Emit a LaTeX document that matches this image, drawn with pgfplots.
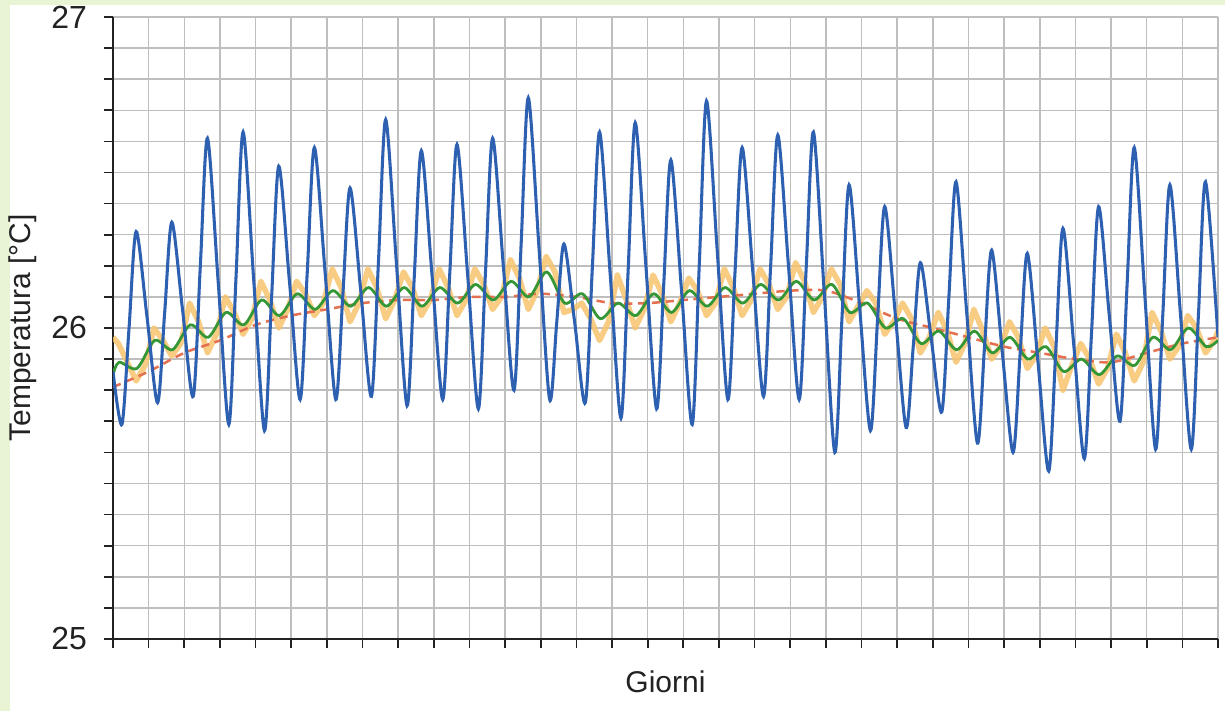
\documentclass[border=0pt]{standalone}
\usepackage{fontspec}
\setmainfont{Liberation Sans}
\usepackage{pgfplots}
\pgfplotsset{compat=1.18}
\definecolor{bggreen}{RGB}{232,244,212}
\definecolor{cblue}{RGB}{46,96,178}
\definecolor{corange}{RGB}{247,196,110}
\definecolor{cgreen}{RGB}{52,150,52}
\definecolor{cred}{RGB}{228,112,80}
\definecolor{cgrid}{RGB}{190,190,190}
\definecolor{ctext}{RGB}{34,34,34}
\begin{document}
\begin{tikzpicture}
\useasboundingbox (0,0) rectangle (441pt,255.96pt);
\fill[bggreen] (0,0) rectangle (441pt,255.96pt);
\fill[white] (3.6pt,0) rectangle (441pt,254.16pt);
\begin{axis}[
  at={(40.68pt,25.92pt)}, anchor=south west,
  scale only axis, width=397.8pt, height=223.92pt,
  xmin=0, xmax=31, ymin=25, ymax=27,
  enlargelimits=false,
  axis lines=left,
  axis line style={-, draw=ctext, line width=0.75pt},
  tick align=outside,
  xtick={0,...,31}, xticklabel={\mbox{}},
  ytick={25,26,27}, minor y tick num=9,
  major tick length=3.4pt, minor tick length=3.4pt,
  every tick/.style={draw=ctext, line width=0.6pt},
  grid=both,
  major grid style={draw=cgrid, line width=0.55pt},
  minor grid style={draw=cgrid, line width=0.55pt},
  /pgf/number format/assume math mode=true,
  ticklabel style={font=\fontsize{11.5}{13}\selectfont, text=ctext},
  yticklabel style={xshift=-2.5pt},
  xlabel={Giorni}, ylabel={Temperatura [°C]},
  label style={font=\fontsize{10.8}{13}\selectfont, text=ctext},
  xlabel style={at={(axis description cs:0.5,-0.069)}, anchor=center},
  ylabel style={at={(axis description cs:-0.0814,0.5)}, anchor=center, rotate=0},
]
% orange (noisy short average)
\addplot[corange, line width=2pt, opacity=0.85, line join=round] coordinates {
(0,25.97) (0.15,25.95) (0.4,25.89) (0.65,25.83) (0.9,25.88)
(1.15,26.00) (1.4,25.96) (1.65,25.91) (1.9,25.95)
(2.15,26.08) (2.4,26.02) (2.65,25.92) (2.9,25.98)
(3.15,26.10) (3.4,26.05) (3.65,25.98) (3.9,26.03)
(4.15,26.15) (4.4,26.09) (4.65,26.00) (4.9,26.06)
(5.15,26.15) (5.4,26.11) (5.65,26.04) (5.9,26.08)
(6.15,26.19) (6.4,26.13) (6.65,26.02) (6.9,26.08)
(7.15,26.19) (7.4,26.13) (7.65,26.03) (7.9,26.09)
(8.15,26.18) (8.4,26.13) (8.65,26.04) (8.9,26.09)
(9.15,26.19) (9.4,26.13) (9.65,26.04) (9.9,26.09)
(10.15,26.19) (10.4,26.14) (10.65,26.06) (10.9,26.10)
(11.15,26.22) (11.4,26.16) (11.65,26.06) (11.9,26.12)
(12.15,26.23) (12.4,26.18) (12.65,26.05) (12.9,26.06)
(13.15,26.08) (13.4,26.03) (13.65,25.96) (13.9,26.02)
(14.15,26.17) (14.4,26.09) (14.65,26.00) (14.9,26.06)
(15.15,26.17) (15.4,26.11) (15.65,26.02) (15.9,26.08)
(16.15,26.16) (16.4,26.12) (16.65,26.04) (16.9,26.08)
(17.15,26.19) (17.4,26.13) (17.65,26.04) (17.9,26.09)
(18.15,26.19) (18.4,26.14) (18.65,26.06) (18.9,26.10)
(19.15,26.21) (19.4,26.15) (19.65,26.05) (19.9,26.10)
(20.15,26.19) (20.4,26.14) (20.65,26.02) (20.9,26.07)
(21.15,26.12) (21.4,26.08) (21.65,25.98) (21.9,26.02)
(22.15,26.08) (22.4,26.03) (22.65,25.92) (22.9,25.97)
(23.15,26.05) (23.4,25.99) (23.65,25.89) (23.9,25.95)
(24.15,26.06) (24.4,25.99) (24.65,25.90) (24.9,25.94)
(25.15,26.02) (25.4,25.97) (25.65,25.87) (25.9,25.91)
(26.15,26.00) (26.4,25.94) (26.65,25.80) (26.9,25.88)
(27.15,25.95) (27.4,25.90) (27.65,25.82) (27.9,25.87)
(28.15,25.98) (28.4,25.92) (28.65,25.83) (28.9,25.89)
(29.15,26.05) (29.4,25.99) (29.65,25.90) (29.9,25.94)
(30.15,26.04) (30.4,26.00) (30.65,25.92) (30.9,25.96)
(31,25.99)
};
% red dashed trend
\addplot[cred, line width=0.9pt, dash pattern=on 3pt off 2pt, smooth] coordinates {
(0,25.81) (1,25.86) (2,25.92) (3,25.96) (4,26.01) (5,26.04) (6,26.06) (7,26.08)
(8,26.09) (9,26.09) (10,26.10) (11,26.10) (12,26.11) (13,26.10) (14,26.08) (15,26.08)
(16,26.09) (17,26.10) (18,26.11) (19,26.12) (20,26.12) (21,26.08) (22,26.03) (23,26.00)
(24,25.97) (25,25.94) (26,25.92) (27,25.90) (28,25.89) (29,25.92) (30,25.95) (31,25.97)
};
% green smoothed
\addplot[cgreen, line width=1pt, smooth] coordinates {
(0,25.85)
(0.17,25.89) (0.67,25.87) (1.17,25.96) (1.67,25.93) (2.17,26.01) (2.67,25.97)
(3.17,26.05) (3.67,26.01) (4.17,26.09) (4.67,26.04) (5.17,26.11) (5.67,26.06)
(6.17,26.12) (6.67,26.07) (7.17,26.13) (7.67,26.07) (8.17,26.13) (8.67,26.07)
(9.17,26.13) (9.67,26.08) (10.17,26.14) (10.67,26.09) (11.17,26.15) (11.67,26.10)
(12.17,26.18) (12.67,26.08) (13.17,26.11) (13.67,26.03) (14.17,26.08) (14.67,26.04)
(15.17,26.11) (15.67,26.05) (16.17,26.12) (16.67,26.07) (17.17,26.13) (17.67,26.08)
(18.17,26.14) (18.67,26.09) (19.17,26.15) (19.67,26.09) (20.17,26.14) (20.67,26.05)
(21.17,26.08) (21.67,26.00) (22.17,26.03) (22.67,25.95) (23.17,25.99) (23.67,25.93)
(24.17,25.99) (24.67,25.92) (25.17,25.97) (25.67,25.90) (26.17,25.94) (26.67,25.86)
(27.17,25.90) (27.67,25.85) (28.17,25.91) (28.67,25.88) (29.17,25.97) (29.67,25.93)
(30.17,26.00) (30.67,25.94) (31,25.96)
};
% blue raw temperature
\addplot[cblue, line width=1.1pt, smooth, tension=0.5] coordinates {
(0,25.86)
(0.25,25.69) (0.45,26.00) (0.65,26.31) (0.95,26.04)
(1.25,25.76) (1.45,26.05) (1.65,26.34) (1.95,26.06)
(2.25,25.78) (2.45,26.20) (2.65,26.61) (2.95,26.15)
(3.25,25.69) (3.45,26.16) (3.65,26.63) (3.95,26.15)
(4.25,25.67) (4.45,26.10) (4.65,26.52) (4.95,26.15)
(5.25,25.77) (5.45,26.18) (5.65,26.58) (5.95,26.18)
(6.25,25.77) (6.45,26.11) (6.65,26.45) (6.95,26.12)
(7.25,25.78) (7.45,26.22) (7.65,26.67) (7.95,26.21)
(8.25,25.75) (8.45,26.16) (8.65,26.57) (8.95,26.17)
(9.25,25.77) (9.45,26.18) (9.65,26.59) (9.95,26.17)
(10.25,25.74) (10.45,26.18) (10.65,26.61) (10.95,26.20)
(11.25,25.80) (11.45,26.27) (11.65,26.74) (11.95,26.26)
(12.25,25.77) (12.45,26.02) (12.65,26.27) (12.95,26.02)
(13.25,25.76) (13.45,26.20) (13.65,26.63) (13.95,26.17)
(14.25,25.71) (14.45,26.18) (14.65,26.66) (14.95,26.20)
(15.25,25.74) (15.45,26.14) (15.65,26.54) (15.95,26.12)
(16.25,25.69) (16.45,26.21) (16.65,26.73) (16.95,26.25)
(17.25,25.77) (17.45,26.18) (17.65,26.58) (17.95,26.18)
(18.25,25.78) (18.45,26.20) (18.65,26.62) (18.95,26.20)
(19.25,25.77) (19.45,26.20) (19.65,26.63) (19.95,26.12)
(20.25,25.60) (20.45,26.03) (20.65,26.46) (20.95,26.06)
(21.25,25.67) (21.45,26.03) (21.65,26.39) (21.95,26.04)
(22.25,25.68) (22.45,25.94) (22.65,26.21) (22.95,25.97)
(23.25,25.73) (23.45,26.10) (23.65,26.47) (23.95,26.05)
(24.25,25.63) (24.45,25.94) (24.65,26.25) (24.95,25.92)
(25.25,25.60) (25.45,25.92) (25.65,26.24) (25.95,25.89)
(26.25,25.54) (26.45,25.93) (26.65,26.32) (26.95,25.95)
(27.25,25.58) (27.45,25.98) (27.65,26.39) (27.95,26.04)
(28.25,25.70) (28.45,26.14) (28.65,26.58) (28.95,26.10)
(29.25,25.61) (29.45,26.04) (29.65,26.46) (29.95,26.04)
(30.25,25.61) (30.45,26.04) (30.65,26.47) (31,25.97)
};
\end{axis}
\end{tikzpicture}
\end{document}
